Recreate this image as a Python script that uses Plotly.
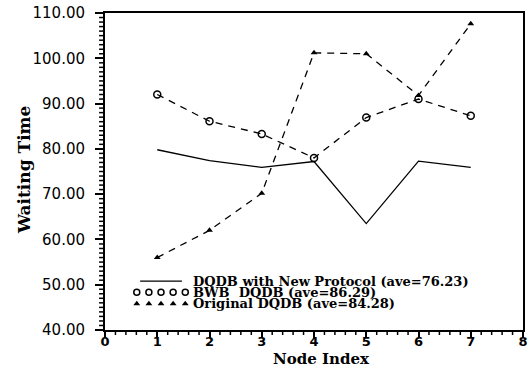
import plotly.graph_objects as go

# Node positions on the dual bus
node_index = [1, 2, 3, 4, 5, 6, 7]

# Mean waiting time per node for each access scheme
new_protocol = [79.8, 77.4, 75.9, 77.2, 63.5, 77.3, 75.9]
bwb_dqdb = [92.0, 86.1, 83.3, 78.0, 86.9, 91.0, 87.3]
original_dqdb = [56.0, 62.0, 70.2, 101.2, 101.0, 91.8, 107.6]

series_labels = [
    "DQDB with New Protocol (ave=76.23)",
    "BWB  DQDB (ave=86.29)",
    "Original DQDB (ave=84.28)",
]

X_RANGE = [0, 8]
Y_RANGE = [40, 110]

INK = "black"
fig = go.Figure()

fig.add_trace(go.Scatter(
    x=node_index, y=new_protocol, mode="lines",
    line=dict(color=INK, width=1.3), showlegend=False))
fig.add_trace(go.Scatter(
    x=node_index, y=bwb_dqdb, mode="lines+markers",
    line=dict(color=INK, width=1.3, dash="7px,6px"),
    marker=dict(symbol="circle-open", size=7, color=INK, line=dict(width=1.5)),
    showlegend=False))
fig.add_trace(go.Scatter(
    x=node_index, y=original_dqdb, mode="lines+markers",
    line=dict(color=INK, width=1.3, dash="7px,6px"),
    marker=dict(symbol="triangle-up", size=6, color=INK),
    showlegend=False))

# Hand-drawn key in the lower part of the frame (overlay axes in 0..1 units)
key_rows = [0.154, 0.119, 0.083]
key_x0, key_x1 = 0.076, 0.192
key_xs = [key_x0 + i * (key_x1 - key_x0) / 4 for i in range(5)]
fig.add_trace(go.Scatter(
    x=[key_x0 + 0.008, key_x1 - 0.008], y=[key_rows[0]] * 2, mode="lines",
    line=dict(color=INK, width=1.3), xaxis="x2", yaxis="y2",
    showlegend=False, hoverinfo="skip"))
fig.add_trace(go.Scatter(
    x=key_xs, y=[key_rows[1]] * 5, mode="markers",
    marker=dict(symbol="circle-open", size=6, color=INK, line=dict(width=1.5)),
    xaxis="x2", yaxis="y2", showlegend=False, hoverinfo="skip"))
fig.add_trace(go.Scatter(
    x=key_xs, y=[key_rows[2]] * 5, mode="markers",
    marker=dict(symbol="triangle-up", size=6, color=INK),
    xaxis="x2", yaxis="y2", showlegend=False, hoverinfo="skip"))

# Fine ticks along both axes, placed as a fraction of the axis span
shapes = []
for k in range(0, 71):
    v = Y_RANGE[0] + k
    if v % 10 == 0:
        continue
    yf = (v - Y_RANGE[0]) / (Y_RANGE[1] - Y_RANGE[0])
    shapes.append(dict(type="line", xref="paper", yref="paper", layer="above",
                       x0=-6 / 423, x1=0, y0=yf, y1=yf,
                       line=dict(color=INK, width=1.5)))
for k in range(0, 41):
    if k % 5 == 0:
        continue
    v = X_RANGE[0] + 0.2 * k
    xf = (v - X_RANGE[0]) / (X_RANGE[1] - X_RANGE[0])
    shapes.append(dict(type="line", xref="paper", yref="paper", layer="above",
                       y0=-5 / 318, y1=0, x0=xf, x1=xf,
                       line=dict(color=INK, width=1.5)))

annotations = []
for label, yr in zip(series_labels, key_rows):
    annotations.append(dict(
        x=0.206, y=yr, xref="paper", yref="paper", xanchor="left", yanchor="middle",
        text=label, showarrow=False,
        font=dict(family="DejaVu Serif", size=13, color=INK, weight="bold")))

annotations.append(dict(
    x=-0.195, y=0.506, xref="paper", yref="paper", text="Waiting Time",
    textangle=-90, showarrow=False, xanchor="center", yanchor="middle",
    font=dict(family="DejaVu Serif", size=17, color=INK, weight="bold")))
annotations.append(dict(
    x=0.518, y=-0.093, xref="paper", yref="paper", text="Node Index",
    showarrow=False, xanchor="center", yanchor="middle",
    font=dict(family="DejaVu Serif", size=15, color=INK, weight="bold")))

fig.update_layout(
    width=532, height=368,
    margin=dict(l=105, r=4, t=12, b=38),
    paper_bgcolor="white", plot_bgcolor="white",
    annotations=annotations,
    shapes=shapes,
    xaxis=dict(
        range=X_RANGE, tickmode="linear", tick0=0, dtick=1,
        showgrid=False, zeroline=False,
        showline=True, linecolor=INK, linewidth=2, mirror=True,
        ticks="outside", ticklen=6, tickwidth=1.5, tickcolor=INK,
        ticklabelstandoff=-8,
        tickfont=dict(family="DejaVu Sans", size=13, color=INK, weight="bold"),
    ),
    yaxis=dict(
        range=Y_RANGE, tickmode="linear", tick0=40, dtick=10, tickformat=".2f",
        showgrid=False, zeroline=False,
        showline=True, linecolor=INK, linewidth=2, mirror=True,
        ticks="outside", ticklen=8, tickwidth=1.5, tickcolor=INK,
        ticklabelstandoff=7,
        tickfont=dict(family="DejaVu Sans", size=15, color=INK),
    ),
    xaxis2=dict(range=[0, 1], overlaying="x", visible=False, fixedrange=True),
    yaxis2=dict(range=[0, 1], overlaying="y", visible=False, fixedrange=True),
)

fig.write_html("out.html")
